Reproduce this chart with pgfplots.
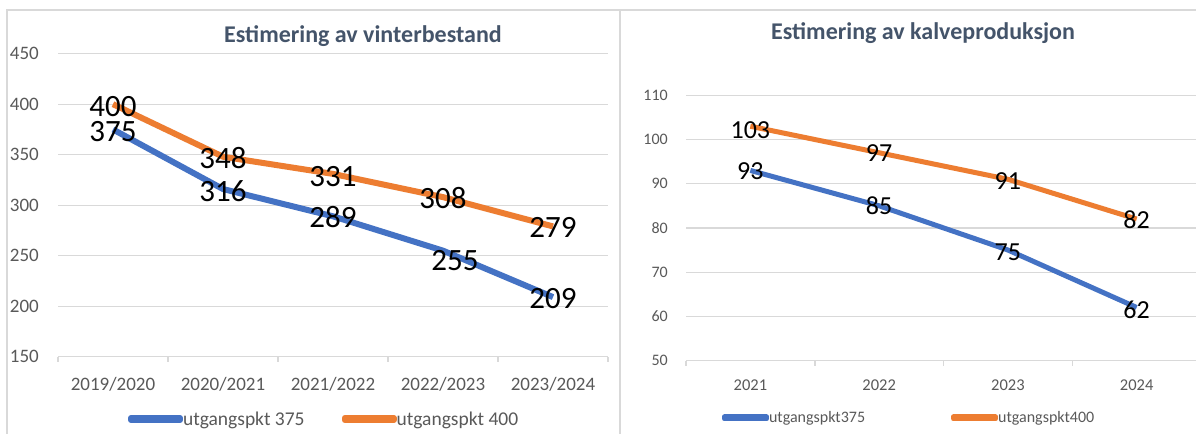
\documentclass[border=0pt]{standalone}
\usepackage{pgfplots}
\usepackage{pgfplotstable}
\pgfplotsset{compat=1.18}
\usepackage{fontspec}
\setmainfont{Carlito}
\definecolor{cblue}{HTML}{4472C4}
\definecolor{corange}{HTML}{ED7D31}
\definecolor{cgrid}{HTML}{D9D9D9}
\definecolor{ctick}{HTML}{595959}
\definecolor{ctitle}{HTML}{44546A}

% x, y = data; lx, ly = where the value label sits
\pgfplotstableread{
x y lx ly
0 375 0 372.5
1 316 1 314.0
2 289 2 288.5
3 255 3.109 245.1
4 209 4 208.0
}\leftblue
\pgfplotstableread{
x y lx ly
0 400 0 398.0
1 348 1 346.5
2 331 2 328.0
3 308 3 307.0
4 279 4 277.5
}\leftorange
\pgfplotstableread{
x y lx ly
0 93 0 92.77
1 85 1 85.0
2 75 2 74.55
3 62 3 61.43
}\rightblue
\pgfplotstableread{
x y lx ly
0 103 0 102.1
1 97 1 97.0
2 91 2 90.66
3 82 3 81.77
}\rightorange

\pgfplotsset{
  excelstyle/.style={
    scale only axis,
    /pgf/number format/assume math mode=true,
    axis x line*=bottom, axis y line*=left,
    x axis line style={cgrid, line width=1.5bp, -},
    y axis line style={draw=none},
    ymajorgrids, major grid style={cgrid, line width=1.2bp},
    major tick length=0pt,
    tick style={draw=none},
    extra x tick labels={},
    extra x tick style={grid=none, major tick length=5bp, tick align=outside,
      xtick style={draw=cgrid, line width=1.5bp}},
    clip=false,
    legend columns=2,
    legend cell align=left,
  },
  lbl/.style={draw=none, mark=none, forget plot, nodes near coords,
    point meta=explicit,
    every node near coord/.style={anchor=center, inner sep=0pt, text=black, font=#1}},
}

\begin{document}
\begin{tikzpicture}
\useasboundingbox (0,0) rectangle (1196bp,434bp);
\clip (0,0) rectangle (1196bp,434bp);
\fill[white] (0,0) rectangle (1196bp,434bp);
\draw[cgrid, line width=1.5bp] (7bp,0) -- (7bp,424bp) -- (1196bp,424bp);
\draw[cgrid, line width=2bp] (620bp,0) -- (620bp,424bp);

% ---------- left chart ----------
\begin{axis}[
  excelstyle,
  at={(58bp,77.3bp)}, anchor=south west,
  width=550bp, height=303bp,
  xmin=-0.5, xmax=4.5, ymin=150, ymax=450,
  ytick={150,200,...,450},
  xtick={0,...,4},
  xticklabels={2019/2020,2020/2021,2021/2022,2022/2023,2023/2024},
  extra x ticks={-0.5,0.5,...,4.5},
  yticklabel style={font=\fontsize{19bp}{19bp}\selectfont, text=ctick, anchor=east, inner sep=0pt, xshift=-19bp},
  xticklabel style={font=\fontsize{19bp}{19bp}\selectfont, text=ctick, anchor=base, inner sep=0pt, yshift=-33.3bp},
  title={Estimering av vinterbestand},
  title style={at={(0.3018,1.0188)}, anchor=base west, inner sep=0pt,
    font=\bfseries\fontsize{24bp}{24bp}\selectfont, text=ctitle},
  legend style={at={(0.1273,-0.2056)}, anchor=west, draw=none, fill=none,
    inner sep=0pt, outer sep=0pt, nodes={inner sep=0pt},
    font=\fontsize{19.5bp}{19.5bp}\selectfont, text=ctick,
    /tikz/every even column/.append style={column sep=37bp}},
  legend image code/.code={
    \draw[#1, line width=6bp, line cap=round] (3bp,0bp) -- (42bp,0bp);
    \path (0bp,-1bp) rectangle (49bp,1bp);},
]
\addplot[cblue, line width=6bp, line join=round] table[x=x,y=y] {\leftblue};
\addlegendentry{utgangspkt 375}
\addplot[corange, line width=6bp, line join=round] table[x=x,y=y] {\leftorange};
\addlegendentry{utgangspkt 400}
\addplot[lbl={\fontsize{31bp}{31bp}\selectfont}] table[x=lx,y=ly,meta=y] {\leftblue};
\addplot[lbl={\fontsize{31bp}{31bp}\selectfont}] table[x=lx,y=ly,meta=y] {\leftorange};
\end{axis}

% ---------- right chart ----------
\begin{axis}[
  excelstyle,
  at={(686bp,73.5bp)}, anchor=south west,
  width=515bp, height=265.2bp,
  xmin=-0.5, xmax=3.5, ymin=50, ymax=110,
  ytick={50,60,...,110},
  xtick={0,...,3},
  xticklabels={2021,2022,2023,2024},
  extra x ticks={-0.5,0.5,...,3.5},
  yticklabel style={font=\fontsize{16bp}{16bp}\selectfont, text=ctick, anchor=east, inner sep=0pt, xshift=-18bp},
  xticklabel style={font=\fontsize{16.5bp}{16.5bp}\selectfont, text=ctick, anchor=base, inner sep=0pt, yshift=-29.5bp},
  title={Estimering av kalveproduksjon},
  title style={at={(0.165,1.1897)}, anchor=base west, inner sep=0pt,
    font=\bfseries\fontsize{24bp}{24bp}\selectfont, text=ctitle},
  legend style={at={(0.0699,-0.2168)}, anchor=west, draw=none, fill=none,
    inner sep=0pt, outer sep=0pt, nodes={inner sep=0pt},
    font=\fontsize{16bp}{16bp}\selectfont, text=ctick,
    /tikz/every even column/.append style={column sep=86bp}},
  legend image code/.code={
    \draw[#1, line width=5bp, line cap=round] (2.5bp,0bp) -- (38.5bp,0bp);
    \path (0bp,-1bp) rectangle (42bp,1bp);},
]
\addplot[cblue, line width=5bp, line join=round] table[x=x,y=y] {\rightblue};
\addlegendentry{utgangspkt375}
\addplot[corange, line width=5bp, line join=round] table[x=x,y=y] {\rightorange};
\addlegendentry{utgangspkt400}
\addplot[lbl={\fontsize{26bp}{26bp}\selectfont}] table[x=lx,y=ly,meta=y] {\rightblue};
\addplot[lbl={\fontsize{26bp}{26bp}\selectfont}] table[x=lx,y=ly,meta=y] {\rightorange};
\end{axis}
\end{tikzpicture}
\end{document}
